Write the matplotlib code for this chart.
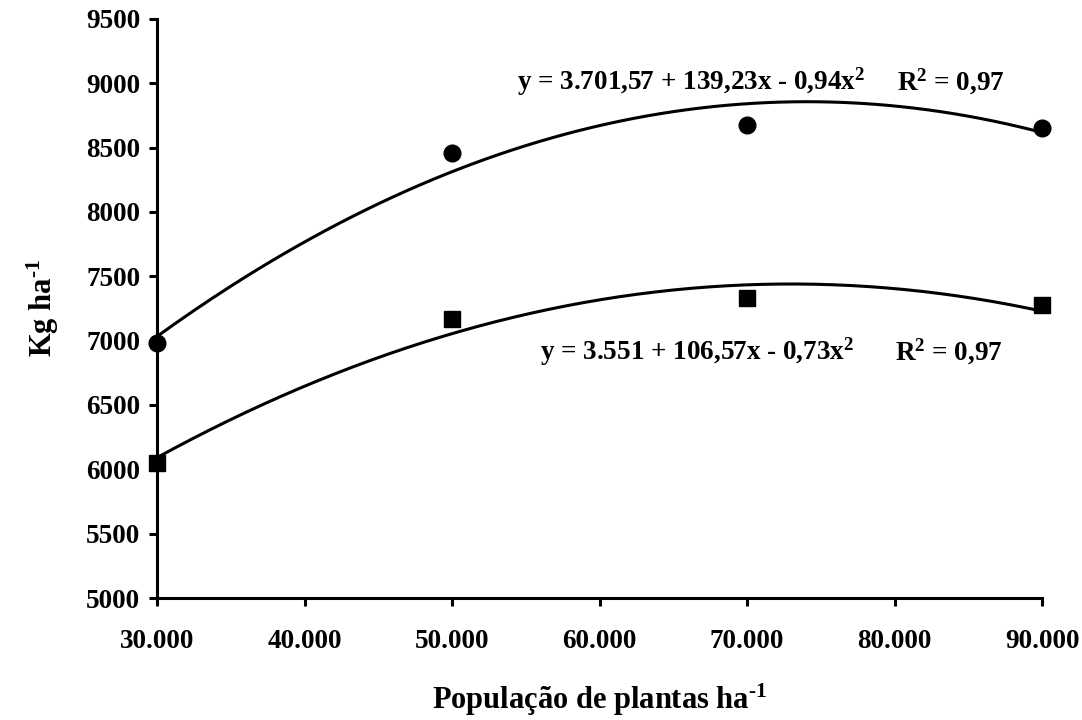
import numpy as np
import matplotlib
matplotlib.use("Agg")
from matplotlib import pyplot as plt

plt.rcParams["font.family"] = ["Liberation Serif", "DejaVu Serif"]
plt.rcParams["font.weight"] = "bold"
plt.rcParams["mathtext.fontset"] = "custom"
plt.rcParams["mathtext.rm"] = "Liberation Serif:bold"
plt.rcParams["mathtext.bf"] = "Liberation Serif:bold"
plt.rcParams["mathtext.default"] = "bf"

# population (thousand plants per ha)
populacao = [30, 50, 70, 90]
# observed yields (kg/ha)
serie_circulo = [6980, 8460, 8680, 8655]
serie_quadrado = [6050, 7166, 7333, 7274]
# regression coefficients shown on the chart (a, b, c) -> a + b x + c x^2
coef_circulo = [3701.57, 139.23, -0.94]
coef_quadrado = [3551.0, 106.57, -0.73]

x_ticks = [30, 40, 50, 60, 70, 80, 90]
x_tick_labels = ["30.000", "40.000", "50.000", "60.000", "70.000", "80.000", "90.000"]
y_ticks = list(range(5000, 9501, 500))

W, H = 1082, 720
fig = plt.figure(figsize=(W / 100, H / 100), dpi=100)
ax = fig.add_axes([157 / W, 1 - 598 / H, (1042 - 157) / W, (598 - 19) / H])

xs = np.linspace(30, 90, 200)
for coef in (coef_circulo, coef_quadrado):
    a, b, c = coef
    ax.plot(xs, a + b * xs + c * xs ** 2, color="black", lw=2.2)

ax.plot(populacao, serie_circulo, "o", color="black", ms=12, clip_on=False, zorder=3)
ax.plot(populacao, serie_quadrado, "s", color="black", ms=11, clip_on=False, zorder=3)

ax.set_xlim(30, 90)
ax.set_ylim(5000, 9500)
ax.set_xticks(x_ticks)
ax.set_xticklabels(x_tick_labels)
ax.set_yticks(y_ticks)

for side in ("top", "right"):
    ax.spines[side].set_visible(False)
for side in ("left", "bottom"):
    ax.spines[side].set_linewidth(2.2)
ax.tick_params(direction="out", length=6, width=2.2, labelsize=19.5)
ax.tick_params(axis="x", pad=16)
ax.tick_params(axis="y", pad=6)
for lab in ax.get_xticklabels() + ax.get_yticklabels():
    lab.set_fontweight("bold")

ax.set_xlabel("População de plantas ha$^{\u20101}$", fontsize=22, fontweight="bold", labelpad=20)
ax.set_ylabel("Kg ha$^{\u20101}$", fontsize=22, fontweight="bold", labelpad=18)


def eq_text(px, py, s):
    fig.text(px / W, 1 - py / H, s, fontsize=19.5, fontweight="bold", va="baseline", ha="left")


eq_text(517, 90, r"y = 3.701,57 + 139,23x - 0,94x$^{2}$")
eq_text(897, 90, r"R$^{2}$ = 0,97")
eq_text(540, 360, r"y = 3.551 + 106,57x - 0,73x$^{2}$")
eq_text(895, 360, r"R$^{2}$ = 0,97")

fig.savefig("out.png", dpi=100)
